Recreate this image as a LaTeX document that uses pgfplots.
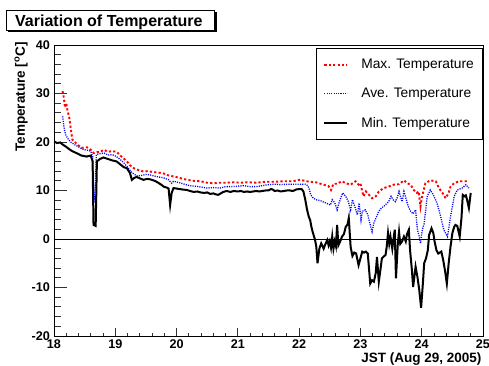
\documentclass[border=0pt]{standalone}
\usepackage{pgfplots}
\pgfplotsset{compat=1.18}
\usepackage{fontspec}
\setmainfont{Liberation Sans}

\pgfplotstableread{
x y
18.00 20.1
18.05 19.8
18.10 19.9
18.15 19.4
18.20 19.0
18.25 18.5
18.30 18.1
18.37 17.7
18.45 17.2
18.53 17.0
18.60 17.2
18.63 16.0
18.645 2.9
18.68 2.7
18.70 16.0
18.75 16.5
18.81 16.8
18.88 16.5
18.95 16.2
19.02 16.0
19.08 15.4
19.14 14.8
19.19 14.6
19.24 13.6
19.27 12.2
19.31 12.6
19.35 12.8
19.40 12.5
19.46 12.2
19.52 12.4
19.57 12.3
19.62 12.1
19.66 11.9
19.70 11.6
19.75 11.2
19.79 10.8
19.84 10.6
19.87 10.4
19.895 7.0
19.92 9.5
19.95 10.5
20.00 10.4
20.05 10.3
20.10 10.2
20.17 10.1
20.22 9.9
20.28 9.7
20.34 9.8
20.39 9.6
20.45 9.5
20.50 9.6
20.55 9.3
20.60 9.4
20.64 9.2
20.68 9.1
20.72 9.4
20.76 9.7
20.82 9.9
20.88 9.7
20.93 9.9
21.00 9.8
21.05 9.9
21.10 9.7
21.15 9.8
21.20 9.7
21.25 9.8
21.30 9.9
21.35 9.8
21.40 9.9
21.45 10.0
21.50 10.0
21.54 10.3
21.57 10.2
21.60 9.9
21.65 10.0
21.70 9.8
21.75 9.9
21.80 10.0
21.85 10.0
21.90 9.9
21.95 10.2
22.00 10.3
22.04 10.3
22.07 9.8
22.10 8.1
22.13 6.0
22.16 4.5
22.18 3.9
22.20 2.5
22.22 1.5
22.26 -0.2
22.28 -1.6
22.30 -5.0
22.33 -2.0
22.36 -0.9
22.40 -2.0
22.43 -1.0
22.46 -0.2
22.48 -1.3
22.50 -0.5
22.52 -1.8
22.54 0.5
22.56 -2.0
22.58 -0.5
22.60 -1.5
22.62 2.9
22.64 -1.3
22.67 -0.5
22.70 0.5
22.73 1.0
22.76 2.5
22.79 3.0
22.81 4.3
22.84 -1.6
22.87 -3.5
22.90 -2.8
22.93 -3.0
22.97 -5.4
23.00 -4.0
23.03 -2.6
23.06 -2.8
23.09 -2.6
23.12 -3.0
23.16 -9.2
23.19 -8.5
23.22 -8.8
23.25 -7.0
23.27 -3.7
23.30 -8.8
23.33 -6.0
23.35 -4.0
23.38 -3.6
23.41 -3.3
23.43 -1.5
23.45 1.2
23.47 -1.0
23.49 0.5
23.52 -2.0
23.54 0.0
23.56 1.9
23.58 -8.1
23.61 -1.0
23.63 1.5
23.65 -1.0
23.68 -0.5
23.71 0.5
23.74 -0.5
23.76 1.0
23.79 1.9
23.81 -2.3
23.84 -6.4
23.86 -9.9
23.90 -5.7
23.93 -7.8
23.96 -10.5
23.99 -14.2
24.02 -9.0
24.04 -5.0
24.07 -4.0
24.10 -2.3
24.12 0.8
24.16 2.2
24.19 1.2
24.21 -0.5
24.24 -2.3
24.27 -3.0
24.32 -2.6
24.35 -4.3
24.38 -6.5
24.41 -9.2
24.44 -5.0
24.47 -1.6
24.50 1.2
24.53 2.5
24.55 2.9
24.58 2.7
24.62 0.5
24.65 4.5
24.67 9.1
24.70 8.8
24.72 9.0
24.74 8.1
24.77 6.4
24.80 9.5
}\mintable

\pgfplotstableread{
x y
18.14 25.3
18.17 22.5
18.19 21.5
18.22 20.8
18.27 20.0
18.33 19.5
18.40 19.0
18.49 18.4
18.55 18.3
18.60 18.1
18.63 17.0
18.65 7.4
18.67 10.0
18.69 17.4
18.75 17.6
18.82 17.7
18.88 17.3
18.95 17.4
19.02 17.0
19.08 16.4
19.14 15.7
19.20 14.8
19.25 14.0
19.28 13.6
19.35 13.0
19.42 13.1
19.50 13.3
19.57 13.2
19.63 13.0
19.70 12.8
19.79 12.6
19.87 12.2
19.92 11.5
19.95 11.9
20.05 11.6
20.15 11.2
20.22 11.0
20.30 10.9
20.40 10.7
20.50 10.5
20.60 10.6
20.71 10.5
20.80 10.8
20.90 10.8
21.00 10.9
21.10 11.0
21.20 10.8
21.30 10.8
21.40 11.0
21.50 11.2
21.60 11.3
21.70 11.2
21.80 11.3
21.90 11.3
22.00 11.3
22.10 11.3
22.14 11.0
22.16 10.5
22.19 9.1
22.22 8.6
22.27 8.1
22.31 8.0
22.35 7.9
22.40 7.6
22.44 7.4
22.48 7.2
22.51 7.0
22.54 8.1
22.58 7.5
22.62 6.0
22.65 7.4
22.68 8.5
22.71 9.5
22.73 9.2
22.76 8.8
22.80 7.8
22.84 6.0
22.87 8.1
22.90 7.0
22.95 5.0
22.98 7.4
23.01 3.9
23.03 5.7
23.08 6.0
23.12 5.0
23.14 3.9
23.19 1.5
23.22 3.3
23.27 4.8
23.30 5.7
23.35 6.5
23.38 6.7
23.42 7.2
23.46 7.7
23.50 8.8
23.54 8.0
23.57 7.7
23.60 8.5
23.63 9.8
23.66 8.5
23.68 7.7
23.71 9.8
23.74 8.5
23.78 6.7
23.82 5.7
23.86 5.2
23.90 6.0
23.93 1.9
23.96 0.5
23.98 -0.9
24.01 1.9
24.04 3.2
24.09 8.8
24.14 10.1
24.19 9.1
24.25 7.4
24.31 4.6
24.36 1.9
24.42 0.5
24.47 4.6
24.53 8.8
24.58 10.1
24.66 10.5
24.72 11.2
24.77 10.5
}\avetable

\pgfplotstableread{
x y
18.14 30.5
18.16 29.1
18.18 27.1
18.20 28.0
18.22 26.5
18.25 25.0
18.28 22.2
18.30 20.5
18.38 19.5
18.45 18.8
18.54 18.9
18.60 18.4
18.65 17.7
18.70 17.9
18.76 18.0
18.81 18.4
18.88 18.0
18.95 18.1
19.02 18.0
19.10 17.0
19.19 16.0
19.24 15.2
19.30 14.6
19.38 14.2
19.46 13.9
19.53 14.0
19.62 13.8
19.70 13.7
19.79 13.5
19.87 13.1
19.95 12.9
20.05 12.6
20.17 12.2
20.28 12.0
20.39 11.9
20.50 11.6
20.60 11.5
20.70 11.6
20.80 11.6
20.93 11.7
21.05 11.6
21.15 11.7
21.30 11.6
21.45 11.8
21.60 11.8
21.75 11.9
21.90 11.9
22.00 12.2
22.10 12.0
22.16 11.8
22.27 11.7
22.40 11.2
22.48 10.9
22.52 10.1
22.56 11.4
22.62 11.4
22.70 11.9
22.76 11.5
22.84 11.2
22.92 11.9
22.97 11.2
23.00 11.5
23.03 9.8
23.05 8.8
23.09 9.8
23.14 9.1
23.19 8.4
23.25 8.8
23.30 9.8
23.38 10.5
23.46 10.8
23.54 11.2
23.63 11.3
23.71 12.1
23.76 11.5
23.82 11.2
23.87 10.1
23.92 9.5
23.95 9.8
23.98 6.7
24.00 8.4
24.06 11.5
24.14 12.1
24.23 11.9
24.28 10.5
24.34 9.5
24.39 8.4
24.44 9.5
24.47 10.8
24.53 11.5
24.61 11.9
24.69 11.9
24.77 11.9
}\maxtable

\begin{document}
\begin{tikzpicture}
\useasboundingbox (-54bp,-30bp) rectangle (435bp,336bp);
% title box with shadow
\fill[black] (-46bp,303.5bp) rectangle (162.5bp,324bp);
\draw[fill=white, line width=0.8bp] (-48bp,305.5bp) rectangle (160.5bp,326bp);
\node[anchor=base west, inner sep=0pt] at (-39bp,309.3bp) {\fontsize{16bp}{18bp}\selectfont\bfseries Variation of Temperature};
\begin{axis}[
  at={(0,0)}, anchor=south west,
  scale only axis, width=429bp, height=291bp,
  xmin=18, xmax=25, ymin=-20, ymax=40,
  xtick={18,19,20,21,22,23,24,25},
  xticklabels={18,19,20,21,22,23,24,25},
  ytick={-20,-10,0,10,20,30,40},
  yticklabels={-20,-10,0,10,20,30,40},
  minor x tick num=4, minor y tick num=4,
  tick align=inside, xtick pos=left, ytick pos=left,
  tick style={black!80, line width=0.9bp},
  xtick style={/pgfplots/major tick length=8.3bp, /pgfplots/minor tick length=3.5bp},
  ytick style={/pgfplots/major tick length=12.7bp, /pgfplots/minor tick length=6.7bp},
  axis line style={line width=0.8bp},
  xticklabel style={font=\fontsize{12.6bp}{14bp}\selectfont\bfseries, inner sep=0pt, yshift=-4bp},
  yticklabel style={font=\fontsize{12.6bp}{14bp}\selectfont\bfseries, inner sep=0pt, xshift=-4bp},
  every axis x label/.style={at={(axis description cs:0.997,-0.091)}, anchor=base east, inner sep=0pt, font=\fontsize{13.5bp}{15bp}\selectfont\bfseries},
  every axis y label/.style={at={(axis description cs:-0.0769,1.0103)}, rotate=90, anchor=east, inner sep=0pt, font=\fontsize{13.5bp}{15bp}\selectfont\bfseries},
  xlabel={JST (Aug 29, 2005)},
  ylabel={Temperature [\textsuperscript{o}C]},
  legend image code/.code={\draw[#1] (0bp,0bp) -- (23bp,0bp);},
  legend cell align=left,
  legend style={at={(axis description cs:0.9993,0.9887)}, anchor=north east,
    draw=black, line width=0.8bp, fill=white,
    font=\fontsize{13.8bp}{16bp}\selectfont,
    inner xsep=6.5bp, inner ysep=8.5bp, row sep=14bp,
    /tikz/every odd column/.append style={column sep=11bp}},
]
\addplot[black, line width=0.7bp, forget plot] coordinates {(18,0) (25,0)};
\addplot[red, line width=1.9bp, dash pattern=on 2.2bp off 2.2bp] table[x=x,y=y] {\maxtable};
\addlegendentry{Max. Temperature}
\addplot[blue, line width=1.3bp, dash pattern=on 1.1bp off 1.2bp] table[x=x,y=y] {\avetable};
\addlegendentry{Ave. Temperature}
\addplot[black, line width=2bp] table[x=x,y=y] {\mintable};
\addlegendentry{Min. Temperature}
\end{axis}
\end{tikzpicture}
\end{document}
